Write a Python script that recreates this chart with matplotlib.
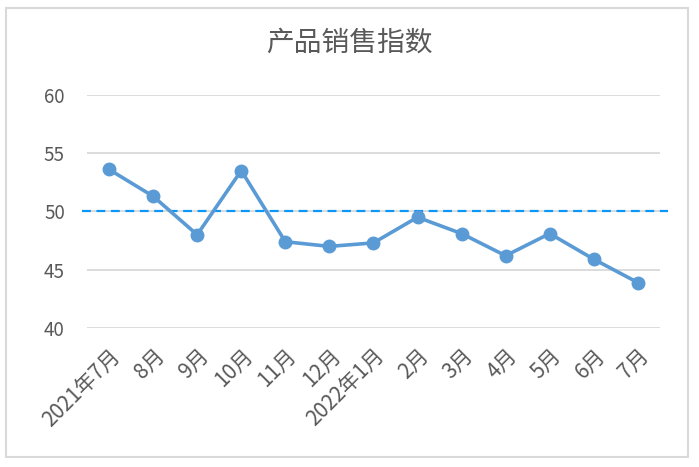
import matplotlib
matplotlib.use('Agg')
import matplotlib.pyplot as plt
from matplotlib.patches import Rectangle

plt.rcParams['font.family'] = ['Noto Sans CJK SC', 'DejaVu Sans']

# data
months = ['2021年7月', '8月', '9月', '10月', '11月', '12月', '2022年1月',
          '2月', '3月', '4月', '5月', '6月', '7月']
index_vals = [53.6, 51.3, 48.0, 53.5, 47.4, 47.0, 47.3,
              49.5, 48.1, 46.2, 48.1, 45.9, 43.9]
ref_level = 50
y_ticks = [40, 45, 50, 55, 60]

fig = plt.figure(figsize=(6.99, 4.67), dpi=100)
ax = fig.add_axes([0.1245, 0.2976, 0.8195, 0.4994])

# gray frame around the whole chart
fig.patches.append(Rectangle((0.009, 0.021), 0.975, 0.962, transform=fig.transFigure,
                             fill=False, edgecolor='#D9D9D9', linewidth=1.5))

x = list(range(len(months)))
ax.plot(x, index_vals, color='#5B9BD5', linewidth=2.6, marker='o',
        markersize=9, zorder=3)

# dashed 50 line, runs a bit past the plot area
ax.plot([-0.61, len(months) - 0.32], [ref_level, ref_level], color='#0A97F5',
        linestyle=(0, (4, 2.5)), linewidth=1.6, clip_on=False, zorder=2)

ax.set_xlim(-0.5, len(months) - 0.5)
ax.set_ylim(y_ticks[0], y_ticks[-1])
ax.set_yticks(y_ticks)
ax.set_xticks(x)
ax.set_xticklabels(months, rotation=45, ha='right', rotation_mode='anchor')
ax.yaxis.grid(True, color='#D9D9D9', linewidth=1.3)
ax.set_axisbelow(True)
for s in ax.spines.values():
    s.set_visible(False)
ax.tick_params(axis='both', length=0, colors='#595959')
ax.tick_params(axis='y', labelsize=13.5, pad=16)
ax.tick_params(axis='x', labelsize=15, pad=12)

fig.text(0.5, 0.908, '产品销售指数', ha='center', va='center',
         fontsize=20, color='#595959')

fig.savefig('out.png', dpi=100)
